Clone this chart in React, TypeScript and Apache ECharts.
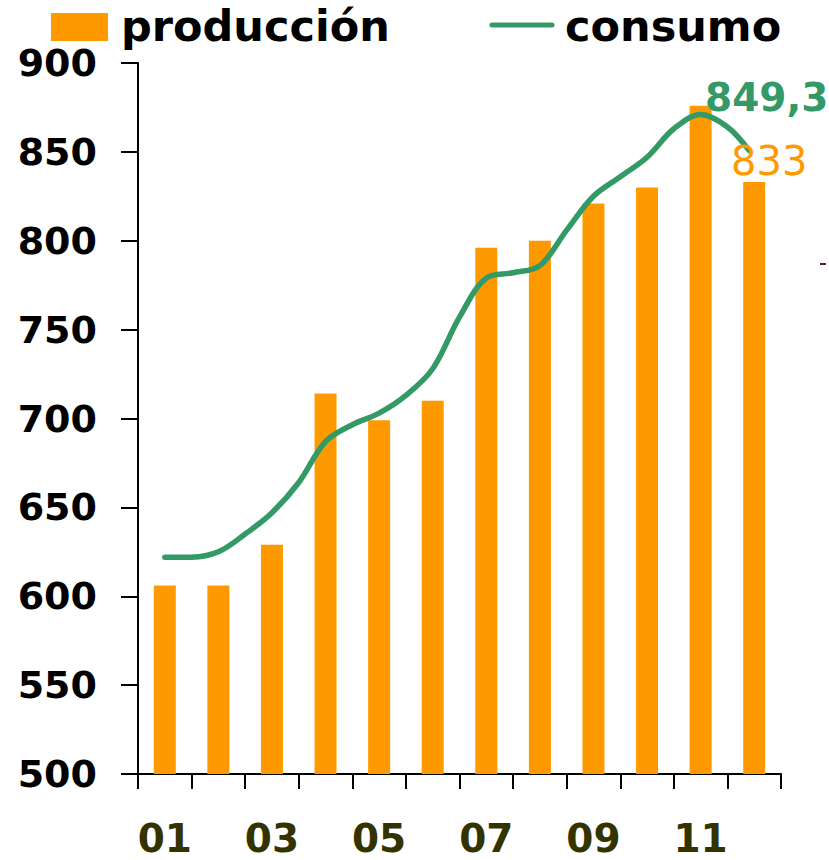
import React, { useEffect, useRef } from "react";
import * as echarts from "echarts";

const categories = ["01", "02", "03", "04", "05", "06", "07", "08", "09", "10", "11", "12"];
const produccion = [606, 606, 629, 714, 699, 710, 796, 800, 821, 830, 876, 833];
// consumo: position along the month axis (0 = first month) and value
const consumoX = [0, 0.5, 1, 1.5, 2, 2.5, 3, 3.5, 4, 4.5, 5, 5.5, 6, 6.5, 7, 7.5, 8, 8.5, 9, 9.5, 10, 10.5, 10.9];
const consumoY = [622, 622, 625, 635, 647, 664, 687, 696.5, 703, 713, 728, 757, 779, 782, 786, 806, 825, 836, 847, 863, 871, 864, 851];
const yTicks = { min: 500, max: 900, interval: 50 };
const lastConsumo = "849,3";
const lastProduccion = "833";

const ORANGE = "#FF9900";
const GREEN = "#339966";
const NUM_FONT = "'DejaVu Sans', sans-serif";

export default function App() {
  const ref = useRef<HTMLDivElement>(null);
  useEffect(() => {
    if (!ref.current) return;
    const chart = echarts.init(ref.current, null, { renderer: "svg" });
    const lineData = consumoX.map((x, i) => [x, consumoY[i]]);
    chart.setOption({
      animation: false,
      grid: { left: 138, right: 48, top: 63, bottom: 86 },
      xAxis: [
        {
          type: "category",
          data: categories,
          boundaryGap: true,
          axisLine: { show: true, onZero: false, lineStyle: { color: "#000", width: 2 } },
          axisTick: { show: true, interval: 0, length: 15, lineStyle: { color: "#000", width: 2 } },
          axisLabel: {
            interval: 1,
            margin: 45,
            color: "#333300",
            fontFamily: NUM_FONT,
            fontWeight: "bold",
            fontSize: 39,
            lineHeight: 39,
          },
          splitLine: { show: false },
        },
        {
          type: "value",
          min: -0.5,
          max: 11.5,
          show: false,
        },
      ],
      yAxis: {
        type: "value",
        min: yTicks.min,
        max: yTicks.max,
        interval: yTicks.interval,
        axisLine: { show: true, onZero: false, lineStyle: { color: "#000", width: 2 } },
        axisTick: { show: true, length: 17, lineStyle: { color: "#000", width: 2 } },
        axisLabel: {
          margin: 41,
          color: "#000",
          fontFamily: NUM_FONT,
          fontWeight: "bold",
          fontSize: 38,
        },
        splitLine: { show: false },
      },
      series: [
        {
          name: "producción",
          type: "bar",
          data: produccion,
          barWidth: 22,
          itemStyle: { color: ORANGE },
          xAxisIndex: 0,
        },
        {
          name: "consumo",
          type: "line",
          data: lineData,
          xAxisIndex: 1,
          smooth: 0.35,
          showSymbol: false,
          symbol: "none",
          lineStyle: { color: GREEN, width: 5.5, cap: "round", join: "round" },
          z: 5,
        },
      ],
      graphic: [
        { type: "rect", left: 51, top: 13, shape: { width: 57, height: 28 }, style: { fill: ORANGE } },
        {
          type: "text",
          x: 121,
          y: 26,
          style: {
            text: "producción",
            fill: "#000",
            font: "bold 43px 'DejaVu Sans', sans-serif",
            verticalAlign: "middle",
          },
        },
        {
          type: "line",
          shape: { x1: 492, y1: 25, x2: 552, y2: 25 },
          style: { stroke: GREEN, lineWidth: 5, lineCap: "round" },
        },
        {
          type: "text",
          x: 565,
          y: 26,
          style: {
            text: "consumo",
            fill: "#000",
            font: "bold 43px 'DejaVu Sans', sans-serif",
            verticalAlign: "middle",
          },
        },
        {
          type: "text",
          x: 705,
          y: 97,
          z: 10,
          style: {
            text: lastConsumo,
            fill: GREEN,
            font: "bold 39px 'DejaVu Sans', sans-serif",
            verticalAlign: "middle",
          },
        },
        {
          type: "text",
          x: 731,
          y: 161,
          z: 10,
          style: {
            text: lastProduccion,
            fill: ORANGE,
            font: "40px 'DejaVu Sans', sans-serif",
            verticalAlign: "middle",
          },
        },
        { type: "rect", left: 820, top: 263, shape: { width: 6, height: 2 }, style: { fill: "#5a1a2a" } },
      ],
    });
    return () => chart.dispose();
  }, []);
  return <div ref={ref} style={{ width: 829, height: 860, position: "absolute", left: 0, top: 0 }} />;
}
